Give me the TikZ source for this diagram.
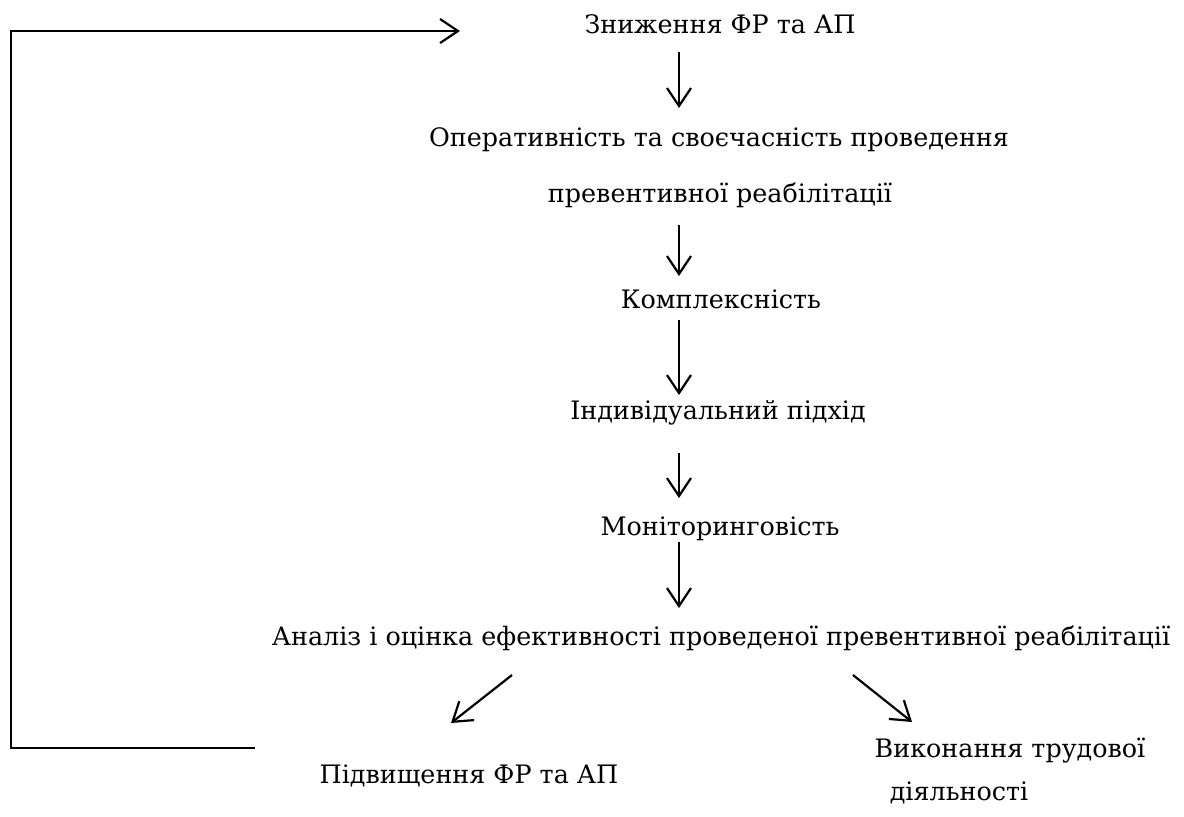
\documentclass[tikz,border=0pt]{standalone}
\usepackage{fontspec}
\setmainfont{DejaVu Serif}
\usetikzlibrary{arrows.meta,calc}

\begin{document}
\begin{tikzpicture}[x=.5pt,y=-.5pt,
    every node/.style={font=\fontsize{12.7}{16}\selectfont,inner sep=0pt,anchor=base},
    arr/.style={-{Straight Barb[length=9pt,width=12pt]},line width=1.1pt}]
      \useasboundingbox (0,0) rectangle (1184,816);
      \node (zn) at (720,33) {Зниження ФР та АП};
      \node (op1) at (719,146) {Оперативність та своєчасність проведення};
      \node (op2) at (720,202) {превентивної реабілітації};
      \node (kp) at (721,308) {Комплексність};
      \node (iv) at (718,419) {Індивідуальний підхід};
      \node (mn) at (720,535) {Моніторинговість};
      \node (an) at (721,645) {Аналіз і оцінка ефективності проведеної превентивної реабілітації};
      \node (pd) at (469,783) {Підвищення ФР та АП};
      \node (vk) at (1010,757) {Виконання трудової};
      \node (dl) at (959,800) {діяльності};
      \coordinate (ax) at (679,0);
      \draw[arr] ($(zn.base -| ax)+(0,19)$) -- ($(op1.base -| ax)+(0,-38)$);
      \draw[arr] ($(op2.base -| ax)+(0,23)$) -- ($(kp.base -| ax)+(0,-32)$);
      \draw[arr] ($(kp.base -| ax)+(0,12)$) -- ($(iv.base -| ax)+(0,-24)$);
      \draw[arr] ($(iv.base -| ax)+(0,34)$) -- ($(mn.base -| ax)+(0,-37)$);
      \draw[arr] ($(mn.base -| ax)+(0,7)$) -- ($(an.base -| ax)+(0,-37)$);
      \draw[arr] ($(an.base)+(-209,30)$) -- ($(pd.base)+(-18,-60)$);
      \draw[arr] ($(an.base)+(132,30)$) -- ($(vk.base)+(-98,-35)$);
      \coordinate (fb1) at (255,748);
      \coordinate (fbc) at (11,31);
      \coordinate (fb2) at (460,31);
      \draw[arr] (fb1) -| (fbc) -- (fb2);
    \end{tikzpicture}
\end{document}
